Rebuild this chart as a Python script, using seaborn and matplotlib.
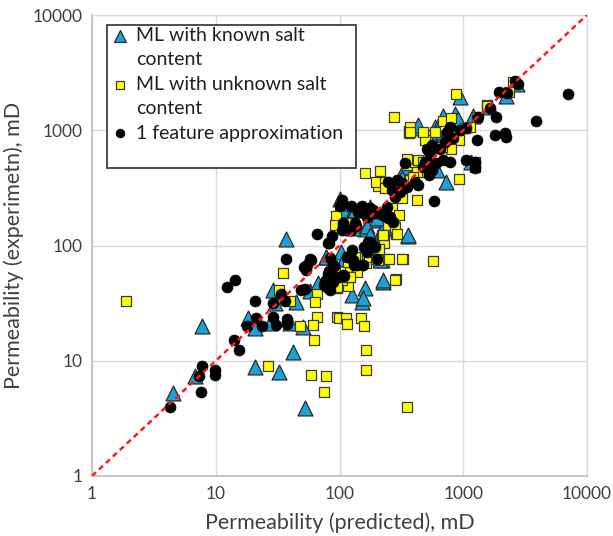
import matplotlib
matplotlib.use("Agg")
import matplotlib.pyplot as plt
import seaborn as sns
import numpy as np
import pandas as pd
from matplotlib.ticker import FixedLocator, FixedFormatter, NullLocator
from matplotlib.patches import Rectangle
from matplotlib.lines import Line2D

# ---------------- data (mD) ----------------
known_pred = [7.7, 37, 4.5, 6.8, 20.9, 32.4, 52.6, 41.9, 29.2, 30.1, 44.5, 57.8, 77.8, 18.2, 20.6,
              27.5, 51, 39.8, 224, 161, 151, 219, 360, 103.5, 108.5, 125.5, 188, 100, 107, 130,
              161, 177, 433, 591, 630, 338, 420, 610, 318, 226, 142, 182, 200, 226, 360, 128,
              166, 177, 220, 940, 2200, 2700, 1650, 1210, 690, 860, 910, 433, 590, 570, 727,
              1160, 385, 104, 133, 200, 212, 224, 154, 98, 78, 67]
known_exp = [20, 115, 5.2, 7.4, 8.8, 8.0, 3.9, 12, 41, 31.5, 32.6, 40, 80, 23.4, 19.1,
             21.2, 19.7, 21.2, 48.5, 42.5, 32.6, 74.8, 121, 87, 76, 37, 91.5, 252, 203, 207,
             140, 217, 1040, 1070, 907, 483, 483, 452, 383, 359, 203, 190, 166, 141, 123, 141,
             147, 123, 136, 1955, 1970, 2540, 1590, 1330, 1330, 1370, 1250, 1100, 970, 825, 358,
             534, 534, 236, 203, 172, 75, 50, 35, 48.5, 80, 47]

unknown_pred = [1.9, 35, 65.5, 63.6, 93.5, 65.5, 96, 61.5, 62.7, 26.6, 58.3, 78.5, 75.5, 47.8,
                32.5, 39.8, 226, 229, 285, 204, 248, 324, 572, 285, 164, 118, 95, 99.5, 113, 115,
                149, 158, 164, 164, 348, 92, 104, 90, 118, 121.5, 139, 146, 118, 174, 198, 93,
                121, 125, 92, 205, 365, 365, 507, 591, 348, 405, 460, 490, 424, 372, 395, 161,
                212, 198, 233, 233, 290, 318, 420, 265, 300, 248, 280, 220, 290, 873, 2510,
                2350, 1550, 1570, 1290, 1135, 1030, 690, 800, 930, 800, 670, 490, 475, 372, 372,
                433, 475, 1250, 930, 276, 348, 115, 118, 133, 138, 121, 95, 205, 252, 318, 224,
                210, 280, 1240]
unknown_exp = [33, 58, 38, 32.6, 42.5, 24, 24, 20.4, 15.1, 9.0, 7.5, 7.4, 5.4, 20,
               41, 33.2, 121, 106, 125, 92.6, 76.4, 76.4, 73, 51, 70, 44.5, 42.5, 23.7, 23.7, 20.7,
               23.4, 20, 12.4, 8.3, 4.0, 61, 50, 49, 80, 64.5, 80, 67.6, 53.5, 79, 76, 181,
               136, 156, 151, 328, 988, 940, 907, 971, 499, 534, 534, 437, 437, 370, 395, 424,
               446, 359, 359, 313, 313, 257, 248, 210, 184, 151, 146, 123, 127, 2065, 2640,
               2160, 1660, 1610, 1310, 1070, 1040, 1210, 1280, 825, 690, 720, 825, 960, 1070, 970,
               552, 534, 534, 375, 1295, 560, 136, 72, 80, 59, 53.5, 44, 75, 77, 77, 123,
               93, 50, 483]

approx_pred = [12.4, 14.4, 81.8, 36.7, 58.8, 53.7, 81, 33.5, 20.9, 28.9, 36, 48.5, 52.6, 21.1,
               17.8, 23.7, 28.9, 30.7, 37.6, 38, 14.1, 15.5, 7.7, 7.35, 9.85, 9.85, 7.65, 4.27,
               65.5, 86.5, 81, 53.7, 83.8, 89, 82.6, 85, 77.8, 74.8, 89, 106.8, 83.8, 125.5,
               129.5, 138, 158, 171, 166, 194, 100, 125, 151, 177, 142, 133, 107, 104, 135, 205,
               507, 541, 490, 604, 525, 560, 475, 338, 290, 405, 433, 348, 307, 248, 265, 280,
               318, 240, 256, 226, 188, 104, 166, 272, 248, 580, 1955, 2245, 2620, 2790, 1650,
               1850, 1320, 1290, 1800, 2170, 2200, 1060, 1240, 780, 740, 830, 715, 650, 560, 525,
               541, 690, 780, 940, 1060, 6980, 3870, 1240, 57.8, 54.6, 51.5, 90, 98, 109, 76, 87,
               79, 114, 130, 154, 177, 200, 107, 133, 123, 194, 166, 220]
approx_exp = [44, 50, 105, 77, 74.5, 66, 57, 37.7, 33.2, 32, 33, 41, 41.7, 23.4,
              20, 20, 24, 20.4, 23.2, 20.8, 15.1, 12.4, 9, 7.4, 8.3, 7.5, 5.4, 4.0,
              125, 121, 106, 61.5, 77.4, 67.6, 60.5, 53.5, 50, 45, 48.5, 55.5, 41, 91.5,
              74.8, 67.6, 98, 108, 88, 98, 220, 220, 220, 210, 196, 151, 151, 136, 147, 190,
              687, 631, 534, 516, 409, 452, 483, 516, 370, 359, 335, 324, 293, 359, 303, 265,
              349, 217, 178, 184, 203, 248, 203, 161, 172, 243, 2160, 2090, 2690, 2540, 1560,
              1300, 1310, 825, 907, 940, 880, 552, 534, 1070, 970, 850, 790, 690, 750, 650,
              552, 552, 534, 1000, 1040, 2050, 1200, 468, 76, 67.5, 64.5, 66, 53.5, 54.5, 48.5, 53.5,
              44, 80, 67.5, 67.5, 108, 77, 158, 156, 136, 193, 178, 188]

tick_vals = [1, 10, 100, 1000, 10000]
tick_labels = ["1", "10", "100", "1000", "10000"]
series_labels = ["ML with known salt\ncontent", "ML with unknown salt\ncontent", "1 feature approximation"]

# ---------------- plot ----------------
sns.set_theme(style="white")
plt.rcParams['font.family'] = ['Lato', 'DejaVu Sans']

W, H = 613, 536
AX_L, AX_R, AX_T, AX_B = 92, 587, 15, 476
fig = plt.figure(figsize=(W / 100, H / 100), dpi=100)
ax = fig.add_axes([AX_L / W, 1 - AX_B / H, (AX_R - AX_L) / W, (AX_B - AX_T) / H])

ax.set_xscale("log")
ax.set_yscale("log")
ax.set_xlim(1, 10000)
ax.set_ylim(1, 10000)

ax.grid(True, which="major", color="#d9d9d9", linewidth=1.0)
ax.set_axisbelow(True)

df_k = pd.DataFrame({"x": known_pred, "y": known_exp})
df_u = pd.DataFrame({"x": unknown_pred, "y": unknown_exp})
df_a = pd.DataFrame({"x": approx_pred, "y": approx_exp})

sns.scatterplot(data=df_k, x="x", y="y", ax=ax, marker="^", s=115, color="#1ba1d8",
                edgecolor="#2b2b2b", linewidth=0.9, label=series_labels[0], zorder=3)
sns.scatterplot(data=df_u, x="x", y="y", ax=ax, marker="s", s=58, color="#ffff00",
                edgecolor="#3a3a3a", linewidth=0.9, label=series_labels[1], zorder=4)
sns.scatterplot(data=df_a, x="x", y="y", ax=ax, marker="o", s=62, color="black",
                edgecolor="black", linewidth=0.5, label=series_labels[2], zorder=5)

ax.plot(tick_vals[::4], tick_vals[::4], linestyle=(0, (2.2, 1.6)), color="#ff1a1a",
        linewidth=1.8, zorder=6)

ax.xaxis.set_major_locator(FixedLocator(tick_vals))
ax.xaxis.set_major_formatter(FixedFormatter(tick_labels))
ax.yaxis.set_major_locator(FixedLocator(tick_vals))
ax.yaxis.set_major_formatter(FixedFormatter(tick_labels))
ax.xaxis.set_minor_locator(NullLocator())
ax.yaxis.set_minor_locator(NullLocator())
ax.tick_params(axis="both", length=0, labelsize=12.5, colors="#404040", pad=7)

for side in ["top", "right"]:
    ax.spines[side].set_color("#d9d9d9")
    ax.spines[side].set_linewidth(1.0)
for side in ["left", "bottom"]:
    ax.spines[side].set_color("#bfbfbf")
    ax.spines[side].set_linewidth(1.2)

ax.set_xlabel("Permeability (predicted), mD", fontsize=15.5, color="#404040", labelpad=8)
ax.set_ylabel("Permeability (experimetn), mD", fontsize=15.5, color="#404040", labelpad=6)

# legend frame (Excel-style box with extra space at the bottom)
def ax_frac_x(px):
    return (px - AX_L) / (AX_R - AX_L)

def ax_frac_y(py):
    return (AX_B - py) / (AX_B - AX_T)

box_l, box_r, box_t, box_b = 107, 356, 25, 168
rect = Rectangle((ax_frac_x(box_l), ax_frac_y(box_b)),
                 ax_frac_x(box_r) - ax_frac_x(box_l), ax_frac_y(box_t) - ax_frac_y(box_b),
                 transform=ax.transAxes, facecolor="white", edgecolor="#404040",
                 linewidth=1.3, zorder=7)
ax.add_patch(rect)

# Excel wraps long labels; marker aligned with the first line of each entry
handles, _ = ax.get_legend_handles_labels()
blank = Line2D([], [], linestyle="none", marker=None)
leg_handles, leg_labels = [], []
for h, lab in zip(handles, series_labels):
    parts = lab.split("\n")
    leg_handles.append(h)
    leg_labels.append(parts[0])
    for extra in parts[1:]:
        leg_handles.append(blank)
        leg_labels.append(extra)

leg = ax.legend(leg_handles, leg_labels, loc="upper left",
                bbox_to_anchor=(ax_frac_x(110), ax_frac_y(27)),
                borderaxespad=0, fontsize=14, frameon=False, handletextpad=0.35,
                handlelength=1.0, labelspacing=0.38, borderpad=0.0,
                markerscale=0.8)
leg.set_zorder(8)
for t in leg.get_texts():
    t.set_color("#202020")

fig.savefig("out.png", dpi=100)
